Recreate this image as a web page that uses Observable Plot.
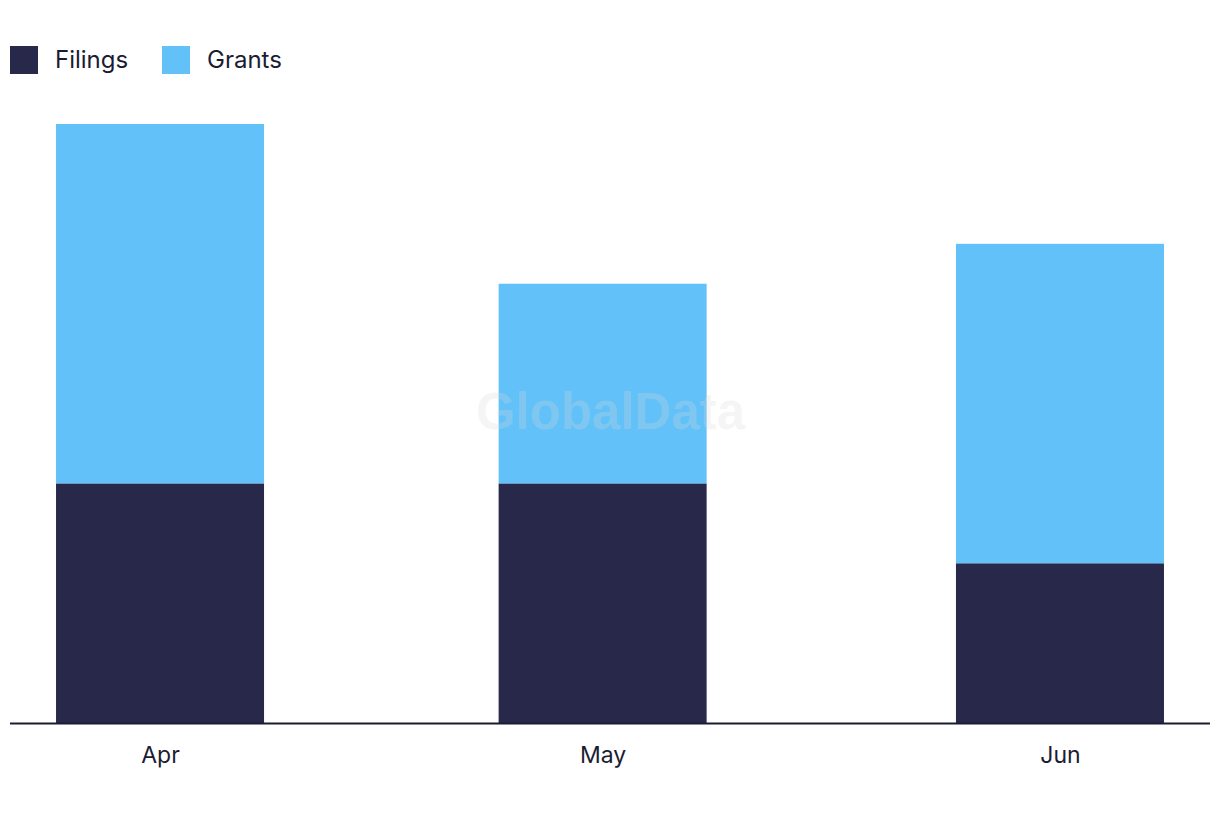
<!DOCTYPE html>
<html>
<head>
<meta charset="utf-8">
<script src="https://cdn.jsdelivr.net/npm/d3@7"></script>
<script src="https://cdn.jsdelivr.net/npm/@observablehq/plot@0.6"></script>
<style>
  body { margin: 0; background: #fff; font-family: Inter, "Noto Sans", sans-serif; color: #1b1c33; }
  #legend { height: 100px; position: relative; }
  .item { position: absolute; top: 45px; display: flex; align-items: center; font-size: 24px; }
  .sw { width: 28px; height: 28px; margin-right: 17px; }
  #chart svg { display: block; }
</style>
</head>
<body>
<div id="legend"></div>
<div id="chart"></div>
<script>
const months = ["Apr", "May", "Jun"];
const monthDates = ["2024-04-01", "2024-05-01", "2024-06-01"];
const series = ["Filings", "Grants"];
const filings = [6, 6, 4];
const grants = [9, 5, 8];
const colors = ["#27284a", "#62c1f8"];

const data = [];
months.forEach((m, i) => {
  const d = new Date(monthDates[i]);
  data.push({date: d, month: m, series: "Filings", value: filings[i]});
  data.push({date: d, month: m, series: "Grants", value: grants[i]});
});

// legend
const legend = document.getElementById("legend");
const lefts = [10, 162];
series.forEach((s, i) => {
  const it = document.createElement("div");
  it.className = "item";
  it.style.left = lefts[i] + "px";
  it.innerHTML = `<div class="sw" style="background:${colors[i]}"></div><span>${s}</span>`;
  legend.appendChild(it);
});

const dayMs = 86400000;
const pad = 10.17 * dayMs;
const x0 = new Date(monthDates[0]).getTime() - pad;
const x1 = new Date(monthDates[2]).getTime() + pad;

const chart = Plot.plot({
  width: 1220,
  height: 700,
  marginLeft: 10,
  marginRight: 10,
  marginTop: 24,
  marginBottom: 77,
  style: {fontFamily: "Inter, 'Noto Sans', sans-serif", fontSize: "23px", color: "#1b1c33", background: "#fff"},
  x: {type: "utc", domain: [new Date(x0), new Date(x1)], ticks: monthDates.map(d => new Date(d)), tickFormat: d => months[monthDates.indexOf(d.toISOString().slice(0,10))], tickSize: 0, tickPadding: 23, label: null},
  y: {domain: [0, 15], axis: null},
  color: {domain: series, range: colors},
  marks: [
    Plot.rectY(data, Plot.stackY({x1: "date", x2: "date", y: "value", fill: "series", insetLeft: -104, insetRight: -104})),
    Plot.text(["GlobalData"], {frameAnchor: "middle", dy: -11, text: d => d, fontSize: 51, fontWeight: "bold", fontFamily: "'Liberation Sans', Arial, sans-serif", fill: "#d8d8d8", fillOpacity: 0.25}),
    Plot.ruleY([0], {stroke: "#1b1c33", strokeWidth: 2})
  ]
});
document.getElementById("chart").appendChild(chart);
</script>
</body>
</html>
